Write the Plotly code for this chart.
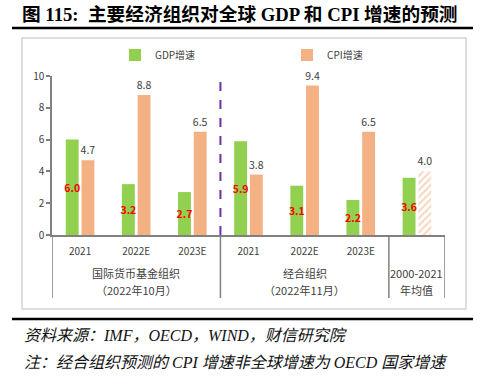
import plotly.graph_objects as go

# ---- data ----
categories = ['2021', '2022E', '2023E', '2021', '2022E', '2023E', '']
gdp = [6.0, 3.2, 2.7, 5.9, 3.1, 2.2, 3.6]
cpi = [4.7, 8.8, 6.5, 3.8, 9.4, 6.5, 4.0]
group_line1 = ['国际货币基金组织', '经合组织', '2000-2021']
group_line2 = ['（2022年10月）', '（2022年11月）', '年均值']
group_centers = [1, 4, 6]
dividers = [-0.5, 2.5, 5.5, 6.5]
forecast_split = 2.5
cpi_patterns = ['', '', '', '', '', '', '/']

title_text = '图 115:  主要经济组织对全球 GDP 和 CPI 增速的预测'
source_text = '资料来源：IMF，OECD，WIND，财信研究院'
note_text = '注：经合组织预测的 CPI 增速非全球增速为 OECD 国家增速'

GREEN = '#92D050'
ORANGE = '#F4B183'
SANS = 'Noto Sans CJK SC'
SERIF = 'Liberation Serif, Noto Sans CJK SC'

x = list(range(len(categories)))

fig = go.Figure()
fig.add_trace(go.Bar(
    x=x, y=gdp, name='GDP增速', marker=dict(color=GREEN, line=dict(width=0)),
    text=[f'{v:.1f}' for v in gdp], textposition='inside', insidetextanchor='middle',
    textangle=0, constraintext='none',
    insidetextfont=dict(color='#FF0000', size=10.5, family=SANS, weight='bold'),
    cliponaxis=False, hoverinfo='skip'))
fig.add_trace(go.Bar(
    x=x, y=cpi, name='CPI增速',
    marker=dict(color=ORANGE, line=dict(width=0),
                pattern=dict(shape=cpi_patterns, fgcolor=ORANGE, bgcolor='white',
                             size=5, solidity=0.45)),
    text=[f'{v:.1f}' for v in cpi], textposition='outside', textangle=0,
    constraintext='none',
    outsidetextfont=dict(color='#404040', size=10.5, family=SANS),
    cliponaxis=False, hoverinfo='skip'))

# plot area geometry (px)
L, R, T, B = 52, 445, 76, 235
PW, PH = R - L, B - T
def px_x(p):
    return (p - L) / PW
def px_y(p):
    return (B - p) / PH

shapes = []
# outer frame
shapes.append(dict(type='rect', xref='paper', yref='paper', x0=px_x(22), x1=px_x(466),
                   y0=px_y(309), y1=px_y(38), line=dict(color='#D4D4D4', width=1.5),
                   fillcolor='white', layer='below'))
# black rules
for yy in (28, 319):
    shapes.append(dict(type='line', xref='paper', yref='paper', x0=px_x(12), x1=px_x(473),
                       y0=px_y(yy), y1=px_y(yy), line=dict(color='black', width=2.5)))
# category dividers below axis
for d in dividers:
    shapes.append(dict(type='line', xref='x', yref='paper', x0=d, x1=d, y0=0, y1=px_y(298),
                       line=dict(color='#808080', width=1.5)))
# purple dashed separator
shapes.append(dict(type='line', xref='x', yref='y', x0=forecast_split, x1=forecast_split,
                   y0=0, y1=10, line=dict(color='#7030A0', width=2, dash='dash')))

annotations = []
for l1, l2, c in zip(group_line1, group_line2, group_centers):
    annotations.append(dict(text=l1, xref='x', yref='paper', x=c, y=px_y(273),
                            xanchor='center', yanchor='middle', showarrow=False,
                            font=dict(family=SANS, size=11, color='#404040')))
    annotations.append(dict(text=l2, xref='x', yref='paper', x=c, y=px_y(290),
                            xanchor='center', yanchor='middle', showarrow=False,
                            font=dict(family=SANS, size=11, color='#404040')))
annotations.append(dict(text='<b>' + title_text + '</b>', xref='paper', yref='paper',
                        x=px_x(20), y=px_y(14), xanchor='left', yanchor='middle',
                        showarrow=False, font=dict(family=SERIF, size=18.7, color='black')))
annotations.append(dict(text='<i>' + source_text + '</i>', xref='paper', yref='paper',
                        x=px_x(22), y=px_y(335), xanchor='left', yanchor='middle',
                        showarrow=False, font=dict(family=SERIF, size=16, color='#111111')))
annotations.append(dict(text='<i>' + note_text + '</i>', xref='paper', yref='paper',
                        x=px_x(22), y=px_y(362), xanchor='left', yanchor='middle',
                        showarrow=False, font=dict(family=SERIF, size=16, color='#111111')))

fig.update_layout(
    width=500, height=392,
    margin=dict(l=L, r=500 - R, t=T, b=392 - B, autoexpand=False),
    paper_bgcolor='white', plot_bgcolor='rgba(0,0,0,0)',
    barmode='group', bargap=0.44, bargroupgap=0.18,
    showlegend=True,
    legend=dict(orientation='h', x=px_x(115), y=px_y(55), xanchor='left', yanchor='middle',
                entrywidth=127, font=dict(family=SANS, size=10, color='#404040'),
                bgcolor='rgba(0,0,0,0)'),
    shapes=shapes, annotations=annotations,
    xaxis=dict(tickmode='array', tickvals=x, ticktext=categories, range=[-0.5, 6.5],
               showline=True, linecolor='#808080', linewidth=1.5, ticks='',
               ticklabelstandoff=6,
               showgrid=False, zeroline=False,
               tickfont=dict(family=SANS, size=10, color='#404040')),
    yaxis=dict(range=[0, 10], dtick=2, showline=True, linecolor='#808080', linewidth=1.5,
               ticks='outside', ticklen=4, tickcolor='#808080', tickwidth=1.5,
               showgrid=False, zeroline=False,
               tickfont=dict(family=SANS, size=10, color='#404040')),
)

fig.write_html('out.html', config={'displayModeBar': False},
               post_script="document.body.style.margin='0';")
